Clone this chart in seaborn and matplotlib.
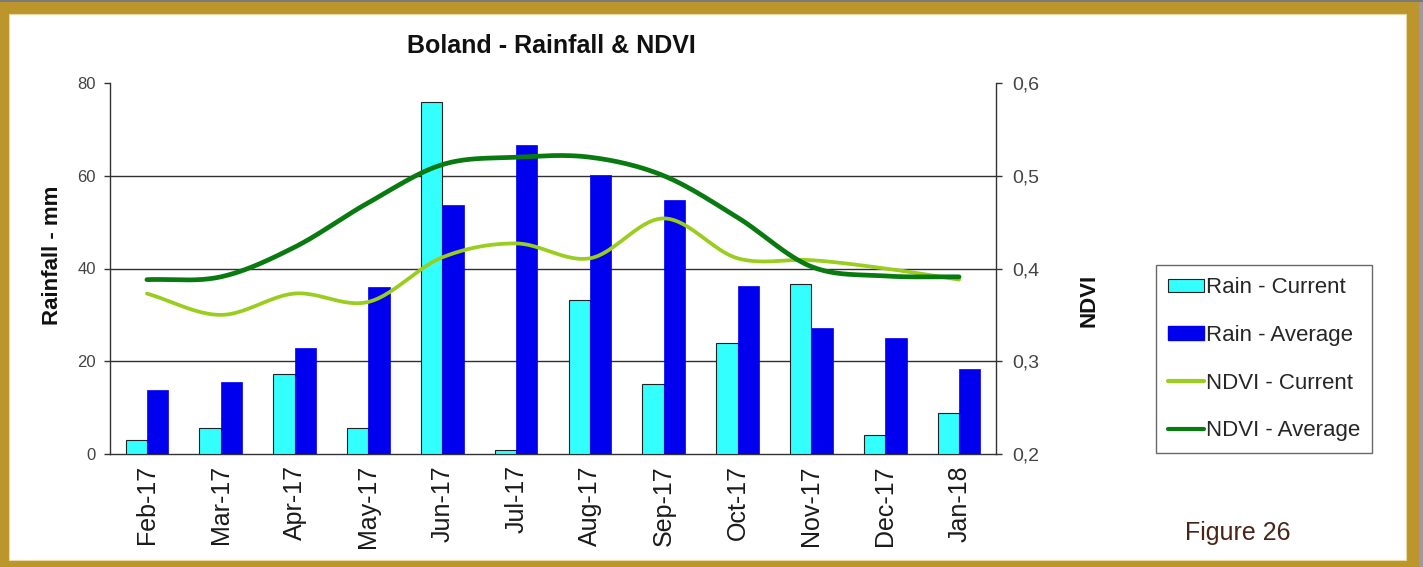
import numpy as np
import pandas as pd
import seaborn as sns
import matplotlib.pyplot as plt
from matplotlib.patches import Rectangle, Patch
from matplotlib.lines import Line2D

months = ['Feb-17', 'Mar-17', 'Apr-17', 'May-17', 'Jun-17', 'Jul-17',
          'Aug-17', 'Sep-17', 'Oct-17', 'Nov-17', 'Dec-17', 'Jan-18']
rain_current = [3.0, 5.6, 17.2, 5.6, 75.9, 0.8, 33.2, 15.1, 24.0, 36.6, 4.1, 8.8]
rain_average = [13.8, 15.5, 22.8, 36.0, 53.7, 66.6, 60.1, 54.7, 36.2, 27.2, 25.0, 18.3]
ndvi_current = [0.373, 0.350, 0.373, 0.364, 0.412, 0.427, 0.411, 0.454, 0.411, 0.409, 0.400, 0.388]
ndvi_average = [0.388, 0.391, 0.423, 0.471, 0.512, 0.520, 0.520, 0.500, 0.455, 0.402, 0.392, 0.391]
rain_ticks = [0, 20, 40, 60, 80]
ndvi_ticks = [0.2, 0.3, 0.4, 0.5, 0.6]

c_cur, c_avg = '#33FFFF', '#0000EE'
g_cur, g_avg = '#9ACD1E', '#087A10'
gold = '#BC962C'

sns.set_style('white')
plt.rcParams['font.family'] = ['Liberation Sans', 'DejaVu Sans']

W, H = 1423, 567
fig = plt.figure(figsize=(W / 100, H / 100), dpi=100, facecolor=gold)

# frame
fig.add_artist(Rectangle((9 / W, 1 - 560 / H), (1406 - 9) / W, (560 - 14) / H,
                         transform=fig.transFigure, facecolor='white',
                         edgecolor='#E8D9A0', lw=0.8, zorder=-2))
fig.add_artist(Rectangle((1419 / W, 0), 4 / W, 1, transform=fig.transFigure,
                         facecolor='#9A9AA2', lw=0, zorder=-2))
fig.add_artist(Rectangle((0, 1 - 1.5 / H), 1, 1.5 / H, transform=fig.transFigure,
                         facecolor='#7A7A7A', lw=0, zorder=-2))


def smooth(y, n=24):
    # catmull-rom curve through the points, like Excel's smoothed line
    y = np.asarray(y, dtype=float)
    p = np.concatenate([[2 * y[0] - y[1]], y, [2 * y[-1] - y[-2]]])
    t = np.linspace(0, 1, n, endpoint=False)
    xs, ys = [], []
    for i in range(len(y) - 1):
        p0, p1, p2, p3 = p[i:i + 4]
        ys.append(0.5 * (2 * p1 + (-p0 + p2) * t + (2 * p0 - 5 * p1 + 4 * p2 - p3) * t ** 2
                         + (-p0 + 3 * p1 - 3 * p2 + p3) * t ** 3))
        xs.append(i + t)
    xs.append([len(y) - 1])
    ys.append([y[-1]])
    return np.concatenate(xs), np.concatenate(ys)


ax = fig.add_axes([110 / W, (H - 454) / H, 886 / W, 371 / H])
ax.set_facecolor('white')

bars = pd.DataFrame({
    'month': months * 2,
    'series': ['Rain - Current'] * 12 + ['Rain - Average'] * 12,
    'rain': rain_current + rain_average,
})
sns.barplot(data=bars, x='month', y='rain', hue='series', palette=[c_cur, c_avg],
            width=0.58, gap=0, saturation=1, legend=False, ax=ax, zorder=3)
for p in ax.containers[0]:
    p.set_edgecolor('#222222')
    p.set_linewidth(0.8)
for p in ax.containers[1]:
    p.set_edgecolor(c_avg)
    p.set_linewidth(0.5)

for v in rain_ticks[1:-1]:
    ax.axhline(v, color='#303030', lw=1.0, zorder=1)

ax.set_xlim(-0.5, 11.5)
ax.set_ylim(0, 80)
ax.set_yticks(rain_ticks)
ax.set_xlabel('')
ax.set_ylabel('')
ax.set_xticks(range(12))
ax.set_xticklabels(months, rotation=90, fontsize=18, color='#1a1a1a')
ax.set_xticks(np.arange(-0.5, 12, 1), minor=True)
ax.tick_params(axis='x', which='major', length=0, pad=8)
ax.tick_params(axis='x', which='minor', length=4, width=1, color='#333333', direction='out')
ax.tick_params(axis='y', length=4, width=1, color='#333333', direction='out',
               labelsize=12, labelcolor='#444444', pad=6)
for s in ['top', 'right']:
    ax.spines[s].set_visible(False)
for s in ['left', 'bottom']:
    ax.spines[s].set_color('#333333')
    ax.spines[s].set_linewidth(1.0)

ax2 = ax.twinx()
xs, ys = smooth(ndvi_current)
sns.lineplot(x=xs, y=ys, color=g_cur, lw=2.7, sort=False, estimator=None, ax=ax2, zorder=4)
xs, ys = smooth(ndvi_average)
sns.lineplot(x=xs, y=ys, color=g_avg, lw=3.4, sort=False, estimator=None, ax=ax2, zorder=5)
ax2.set_ylim(0.2, 0.6)
ax2.set_yticks(ndvi_ticks)
ax2.set_yticklabels([f'{v:.1f}'.replace('.', ',') for v in ndvi_ticks])
ax2.tick_params(axis='y', length=4, width=1, color='#333333', direction='out',
                labelsize=14, labelcolor='#444444', pad=8)
for s in ['top', 'left', 'bottom']:
    ax2.spines[s].set_visible(False)
ax2.spines['right'].set_color('#333333')
ax2.spines['right'].set_linewidth(1.0)
ax2.set_xlim(-0.5, 11.5)

fig.text(551 / W, 1 - 46 / H, 'Boland - Rainfall & NDVI', ha='center', va='center',
         fontsize=18, fontweight='bold', color='#111111')
fig.text(53 / W, 1 - 255 / H, 'Rainfall - mm', rotation=90, ha='center', va='center',
         fontsize=16, fontweight='bold', color='#111111')
fig.text(1089 / W, 1 - 300 / H, 'NDVI', rotation=90, ha='center', va='center',
         fontsize=16, fontweight='bold', color='#111111')
fig.text(1185 / W, 1 - 533 / H, 'Figure 26', ha='left', va='center',
         fontsize=18, color='#4A2418')

handles = [
    Patch(facecolor=c_cur, edgecolor='#222222', lw=0.8, label='Rain - Current'),
    Patch(facecolor=c_avg, edgecolor=c_avg, label='Rain - Average'),
    Line2D([], [], color=g_cur, lw=3, label='NDVI - Current'),
    Line2D([], [], color=g_avg, lw=3, label='NDVI - Average'),
]
leg = fig.legend(handles=handles, loc='upper left', bbox_to_anchor=(1156 / W, 1 - 265 / H),
                 fontsize=16, frameon=True, fancybox=False, edgecolor='#444444',
                 handlelength=1.6, handleheight=0.55, handletextpad=0.1,
                 labelspacing=1.2, borderpad=0.55, borderaxespad=0)
leg.get_frame().set_linewidth(1.0)

fig.savefig('out.png', dpi=100, facecolor=gold)
